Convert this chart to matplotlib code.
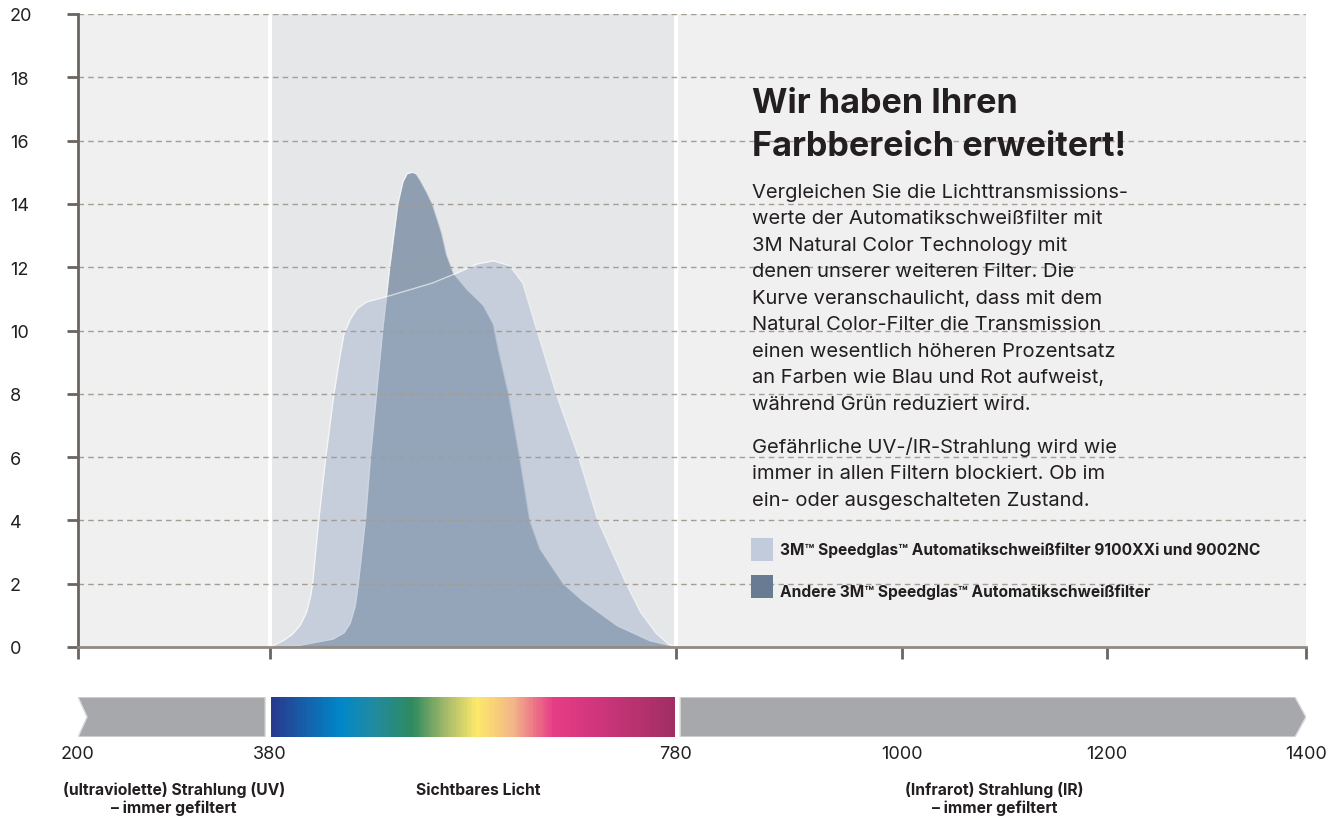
import numpy as np
import matplotlib
matplotlib.use('Agg')
import matplotlib.pyplot as plt
from matplotlib.colors import LinearSegmentedColormap
from matplotlib.patches import Polygon, Rectangle

plt.rcParams['font.family'] = ['Inter', 'DejaVu Sans']
TXT = '#231f20'

# transmission (%) over wavelength (nm)
nc_wl = [380, 393, 402, 410, 416, 420, 422, 425, 428, 435, 443, 449, 453, 459, 466, 475,
         498, 540, 563, 584, 600, 616, 629, 643, 662, 684, 703, 731, 745, 760, 772, 780]
nc_tr = [0, 0.2, 0.4, 0.7, 1.1, 1.6, 2.0, 3.0, 4.0, 6.0, 8.0, 9.2, 9.9, 10.35, 10.7, 10.9,
         11.1, 11.5, 11.8, 12.1, 12.2, 12.05, 11.5, 10.0, 8.0, 6.0, 4.0, 2.0, 1.1, 0.45, 0.1, 0]

other_wl = [380, 410, 442, 453, 459, 464, 467, 474, 479, 485, 491, 498, 506, 511, 515, 520, 524,
            528, 534, 540, 549, 554, 561, 574, 590, 600, 605, 615, 626, 636, 646, 669, 688,
            722, 754, 780]
other_tr = [0, 0.06, 0.25, 0.45, 0.75, 1.3, 2.0, 4.0, 6.0, 8.0, 10.0, 12.0, 14.0, 14.7, 14.95, 15.0, 14.95,
            14.75, 14.4, 14.0, 13.1, 12.4, 11.8, 11.3, 10.8, 10.2, 9.4, 8.0, 6.0, 4.0, 3.1, 2.0, 1.46,
            0.67, 0.2, 0]

x_ticks = [200, 380, 780, 1000, 1200, 1400]
y_ticks = list(range(0, 21, 2))
bands = [200, 380, 780, 1400]
band_labels = [['(ultraviolette) Strahlung (UV)', '\u2013 immer gefiltert'],
               ['Sichtbares Licht'],
               ['(Infrarot) Strahlung (IR)', '\u2013 immer gefiltert']]

spec_stops = [0, 0.17, 0.245, 0.35, 0.435, 0.51, 0.60, 0.70, 0.80, 1.0]
spec_colors = ['#283a8e', '#0087c8', '#1f8aa5', '#2f8a5f', '#a9bb6a', '#fce96a',
               '#f3b688', '#e63c86', '#d2367c', '#a02e64']

title_lines = ['Wir haben Ihren', 'Farbbereich erweitert!']
para1 = ['Vergleichen Sie die Lichttransmissions-',
         'werte der Automatikschwei\u00dffilter mit',
         '3M Natural Color Technology mit',
         'denen unserer weiteren Filter. Die',
         'Kurve veranschaulicht, dass mit dem',
         'Natural Color-Filter die Transmission',
         'einen wesentlich h\u00f6heren Prozentsatz',
         'an Farben wie Blau und Rot aufweist,',
         'w\u00e4hrend Gr\u00fcn reduziert wird.']
para2 = ['Gef\u00e4hrliche UV-/IR-Strahlung wird wie',
         'immer in allen Filtern blockiert. Ob im',
         'ein- oder ausgeschalteten Zustand.']
legend_labels = ['3M\u2122 Speedglas\u2122 Automatikschwei\u00dffilter 9100XXi und 9002NC',
                 'Andere 3M\u2122 Speedglas\u2122 Automatikschwei\u00dffilter']

# the original axis is not quite linear, ticks sit at these offsets (px)
tick_px = [0, 192, 598, 824, 1029, 1228]
def fwd(x):
    return np.interp(x, x_ticks, tick_px)
def inv(x):
    return np.interp(x, tick_px, x_ticks)

W, H = 1344, 820
fig = plt.figure(figsize=(W / 100, H / 100), dpi=100)
ax = fig.add_axes([78 / W, 1 - 648 / H, 1228 / W, 633 / H])
ax.set_xscale('function', functions=(fwd, inv))
ax.set_xlim(200, 1400)
ax.set_ylim(0, 20)
ax.set_facecolor('#f0f0f0')
ax.axvspan(380, 780, color='#e6e7e9', lw=0, zorder=0)
for v in bands[1:3]:
    ax.axvline(v, color='white', lw=3, zorder=1)

ax.fill_between(other_wl, other_tr, color='#8f9eb0', lw=0, zorder=2)
ax.plot(other_wl, other_tr, color='white', alpha=0.5, lw=1, zorder=2.1)
ax.fill_between(nc_wl, nc_tr, color='#9caec9', alpha=0.44, lw=0, zorder=3)
ax.plot(nc_wl, nc_tr, color='white', alpha=0.6, lw=1, zorder=3.1)

for y in y_ticks[1:]:
    ax.axhline(y, color='#a39d94', lw=1, ls=(0, (4, 3)), zorder=4)

for s in ['top', 'right']:
    ax.spines[s].set_visible(False)
ax.spines['left'].set_color('#6b6560')
ax.spines['left'].set_linewidth(2)
ax.spines['bottom'].set_color('#8f8a85')
ax.spines['bottom'].set_linewidth(2)
ax.spines['left'].set_zorder(5)
ax.spines['bottom'].set_zorder(5)

ax.set_xticks(x_ticks)
ax.set_xticks([], minor=True)
ax.tick_params(axis='x', length=8.5, width=2, color='#6b6560', labelbottom=False)
ax.set_yticks(y_ticks)
ax.tick_params(axis='y', length=8, width=2, color='#6b6560', labelsize=13,
               labelcolor=TXT, pad=41)
for lbl in ax.get_yticklabels():
    lbl.set_horizontalalignment('left')

# spectrum bar
ax2 = fig.add_axes([78 / W, 1 - 738 / H, 1228 / W, 40 / H])
ax2.set_xscale('function', functions=(fwd, inv))
ax2.set_xlim(200, 1400)
ax2.set_ylim(0, 1)
for s in ax2.spines.values():
    s.set_visible(False)
ax2.set_yticks([])
ax2.set_xticks(x_ticks)
ax2.set_xticks([], minor=True)
ax2.set_xticklabels([str(v) for v in x_ticks])
ax2.tick_params(axis='x', length=0, labelsize=13, labelcolor=TXT, pad=6)

gray = '#a7a8ac'
uv = Polygon([(bands[0], 0), (bands[1] - 4.5, 0), (bands[1] - 4.5, 1), (bands[0], 1),
              (bands[0] + 8.5, 0.5)], closed=True, fc=gray, ec='#dcdcde', lw=1)
ir = Polygon([(bands[2] + 4, 0), (bands[3] - 11, 0), (bands[3], 0.5), (bands[3] - 11, 1),
              (bands[2] + 4, 1)], closed=True, fc=gray, ec='#dcdcde', lw=1)
ax2.add_patch(uv)
ax2.add_patch(ir)

spec_cmap = LinearSegmentedColormap.from_list('spec', list(zip(spec_stops, spec_colors)))
xe = np.linspace(bands[1] + 1, bands[2] - 1, 300)
vals = np.linspace(0, 1, len(xe) - 1)[None, :]
ax2.pcolormesh(xe, [0, 1], vals, cmap=spec_cmap, shading='flat', lw=0, antialiased=False)

tr = ax2.get_xaxis_transform()
for i, lines in enumerate(band_labels):
    xc = (bands[i] + bands[i + 1]) / 2
    if i == 1:
        xc += 5
    for j, line in enumerate(lines):
        ax2.text(xc, -1.425 - 0.45 * j, line, transform=tr, ha='center', va='baseline',
                 fontsize=11.3, fontweight='bold', color=TXT)

# text block on the right
tx = 752 / W
for i, line in enumerate(title_lines):
    fig.text(tx, 1 - (113 + 43 * i) / H, line, fontsize=24.6, fontweight='bold',
             color=TXT, va='baseline')
for i, line in enumerate(para1):
    fig.text(tx, 1 - (198 + 26.5 * i) / H, line, fontsize=14.5, color=TXT, va='baseline')
for i, line in enumerate(para2):
    fig.text(tx, 1 - (453 + 26.3 * i) / H, line, fontsize=14.5, color=TXT, va='baseline')

swatches = ['#c1cbdc', '#697a93']
for i, (lab, c) in enumerate(zip(legend_labels, swatches)):
    top = 539 + 37 * i
    fig.patches.append(Rectangle((751 / W, 1 - (top + 23) / H), 22 / W, 23 / H,
                                 transform=fig.transFigure, fc=c, ec='none'))
    fig.text(780 / W, 1 - (555 + 42 * i) / H, lab, fontsize=11.2, fontweight='bold',
             color=TXT, va='baseline')

fig.savefig('out.png', dpi=100, facecolor='white')
